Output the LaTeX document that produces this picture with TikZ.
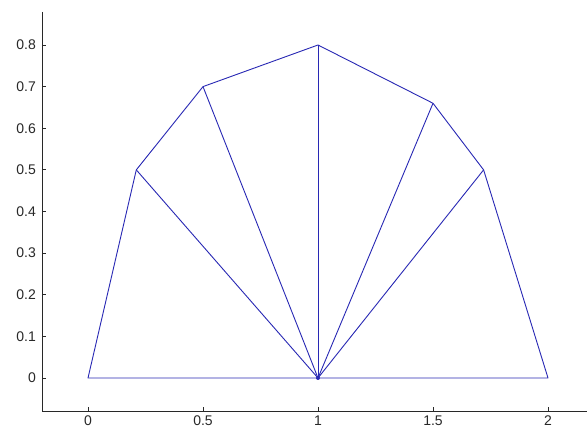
\documentclass[tikz,border=0pt]{standalone}
\usepackage{fontspec}
\setmainfont{Liberation Sans}
\definecolor{plotblue}{RGB}{40,40,180}
\definecolor{axisgray}{RGB}{40,40,40}
\tikzset{
  axisline/.style={draw=axisgray, line width=1pt},
  tickline/.style={draw=axisgray, line width=0.8pt},
  ticklab/.style={font=\fontsize{14}{14}\selectfont, text=axisgray, inner sep=0pt},
  edge/.style={draw=plotblue, line width=0.9pt},
}
\begin{document}
\begin{tikzpicture}[x=1pt,y=-1pt]
\useasboundingbox (0,0) rectangle (587,430);
\fill[white] (0,0) rectangle (587,430);
% axes
\coordinate (ytop) at (42,12);
\coordinate (corner) at (42,412);
\coordinate (xend) at (587,412);
\draw[axisline] (ytop) -- (corner) -- (xend);
% y ticks
\foreach \v/\lab in {0/0,0.1/0.1,0.2/0.2,0.3/0.3,0.4/0.4,0.5/0.5,0.6/0.6,0.7/0.7,0.8/0.8}{
  \pgfmathsetmacro{\py}{378-416.25*\v}
  \draw[tickline] (42,\py) -- (46,\py);
  \node[ticklab, anchor=east] (yl\lab) at (36,\py) {\lab};
}
% x ticks
\foreach \v/\lab/\nm in {0/0/a,0.5/0.5/b,1/1/c,1.5/1.5/d,2/2/e}{
  \pgfmathsetmacro{\px}{88+230*\v}
  \draw[tickline] (\px,412) -- (\px,407);
  \node[ticklab, anchor=north] (xl\nm) at (\px,416) {\lab};
}
% data
\begin{scope}[shift={(88,378)}, x=230pt, y=416.25pt]
  \coordinate (p0) at (0,0);
  \coordinate (p1) at (0.21,0.5);
  \coordinate (p2) at (0.5,0.70);
  \coordinate (p3) at (1,0.8);
  \coordinate (p4) at (1.5,0.66);
  \coordinate (p5) at (1.72,0.5);
  \coordinate (p6) at (2,0);
  \coordinate (c) at (1,0);
\end{scope}
\draw[edge, line join=round] (p0) -- (p1) -- (p2) -- (p3) -- (p4) -- (p5) -- (p6) -- cycle;
\foreach \i in {1,...,5}{ \draw[edge] (c) -- (p\i); }
\fill[plotblue] (c) circle (2pt);
\end{tikzpicture}
\end{document}
